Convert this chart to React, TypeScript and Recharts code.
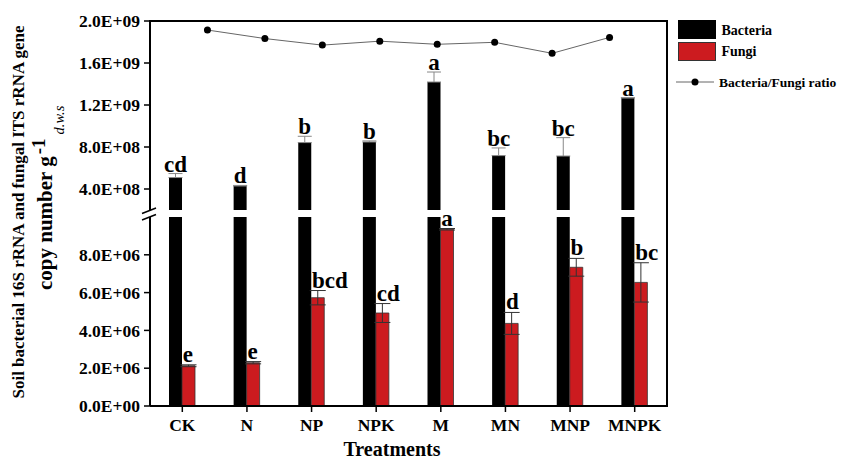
import React from "react";
import { ComposedChart, Bar, Line, XAxis, YAxis, ErrorBar, LabelList } from "recharts";

const FONT = "'Liberation Serif', 'Times New Roman', serif";
const RED = "#cc1b1f";

const treatments = ["CK", "N", "NP", "NPK", "M", "MN", "MNP", "MNPK"];
const bacteria = [5.09e8, 4.29e8, 8.42e8, 8.48e8, 1.419e9, 7.18e8, 7.14e8, 1.267e9];
const bacteriaErr = [3.8e7, 0.5e7, 6.0e7, 1.0e7, 9.5e7, 7.3e7, 1.75e8, 0.3e7];
const fungi = [2.13e6, 2.29e6, 5.73e6, 4.92e6, 9.35e6, 4.37e6, 7.34e6, 6.54e6];
const fungiErr = [0.05e6, 0.06e6, 0.38e6, 0.5e6, 0.04e6, 0.58e6, 0.47e6, 1.04e6];
const ratio = [239, 187, 147, 171, 152, 164, 97, 194];
const bacteriaLetters = ["cd", "d", "b", "b", "a", "bc", "bc", "a"];
const fungiLetters = ["e", "e", "bcd", "cd", "a", "d", "b", "bc"];
const upperTicks = [4e8, 8e8, 1.2e9, 1.6e9, 2e9];
const lowerTicks = [0, 2e6, 4e6, 6e6, 8e6];

const data = treatments.map((name, i) => ({
  name,
  idx: i,
  bacteria: bacteria[i],
  bacteriaErr: [0, bacteriaErr[i]],
  bacteriaTop: bacteria[i] + bacteriaErr[i],
  bacteriaLetter: bacteriaLetters[i],
  fungi: fungi[i],
  fungiErr: fungiErr[i],
  fungiTop: fungi[i] + fungiErr[i],
  fungiLetter: fungiLetters[i],
  ratio: ratio[i],
}));

// 2.0E+09 style
const sci = (v: number) => {
  const [m, e] = v.toExponential(1).split("e");
  return `${m}E${e[0]}${e.slice(1).padStart(2, "0")}`;
};

const tickStyle = { fill: "#000", fontSize: 17.5, fontWeight: "bold", fontFamily: FONT };

const bactLabel = (props: any) => (
  <text x={props.x - 6.8} y={props.y - 2} textAnchor="middle" fontSize={23} fontWeight="bold" fontFamily={FONT} fill="#000">
    {props.value}
  </text>
);

const fungiLabel = (props: any) => (
  <text x={props.x + 0.5} y={props.y - 3} textAnchor="start" fontSize={23} fontWeight="bold" fontFamily={FONT} fill="#000">
    {props.value}
  </text>
);

function Overlay() {
  return (
    <svg width={843} height={462} style={{ position: "absolute", left: 0, top: 0, pointerEvents: "none" }}>
      {/* frame */}
      <line x1={149} y1={21} x2={668} y2={21} stroke="#000" strokeWidth={2} />
      <line x1={667} y1={20} x2={667} y2={407} stroke="#000" strokeWidth={2} />
      {/* axis break */}
      <line x1={142} y1={213.5} x2={156} y2={208} stroke="#000" strokeWidth={1.5} />
      <line x1={142} y1={220} x2={156} y2={214.5} stroke="#000" strokeWidth={1.5} />
      {/* y label */}
      <text transform="rotate(-90, 24, 212)" x={24} y={212} textAnchor="middle" fontSize={17} fontWeight="bold" fontFamily={FONT}>
        Soil bacterial 16S rRNA and fungal ITS rRNA gene
      </text>
      <text transform="rotate(-90, 52, 290)" x={52} y={290} textAnchor="start" fontSize={21} fontWeight="bold" fontFamily={FONT}>
        copy number g
        <tspan dy={-7} dx={2} fontSize={19}>-1</tspan>
        <tspan dy={19} dx={4} fontSize={14.5} fontWeight="normal" fontStyle="italic">d.w.s</tspan>
      </text>
      <text x={392} y={456} textAnchor="middle" fontSize={20} fontWeight="bold" fontFamily={FONT}>
        Treatments
      </text>
      {/* legend */}
      <rect x={678} y={20} width={38} height={19} fill="#000" />
      <rect x={678.5} y={42.5} width={37} height={18} fill={RED} stroke="#333" />
      <text x={721.5} y={35} fontSize={14} fontWeight="bold" fontFamily={FONT}>Bacteria</text>
      <text x={721.5} y={56} fontSize={14} fontWeight="bold" fontFamily={FONT}>Fungi</text>
      <line x1={676} y1={82} x2={714} y2={82} stroke="#666" strokeWidth={1} />
      <circle cx={695} cy={82} r={3.5} fill="#000" />
      <text x={719} y={86.5} fontSize={13.5} fontWeight="bold" fontFamily={FONT}>Bacteria/Fungi ratio</text>
    </svg>
  );
}

export default function App() {
  return (
    <div style={{ position: "absolute", left: 0, top: 0, width: 843, height: 462, background: "#fff", overflow: "hidden" }}>
      {/* lower segment: 0 - 1E+07 */}
      <div style={{ position: "absolute", left: 0, top: 0 }}>
        <ComposedChart width={843} height={462} data={data} barSize={13} barGap={0} margin={{ top: 217, right: 176, bottom: 0, left: 0 }}>
          <XAxis
            dataKey="name"
            height={56}
            tickSize={6}
            tickMargin={7}
            tick={tickStyle}
            axisLine={{ stroke: "#000", strokeWidth: 2 }}
            tickLine={{ stroke: "#000", strokeWidth: 1.5 }}
          />
          <YAxis
            width={150}
            domain={[0, 1e7]}
            allowDataOverflow
            ticks={lowerTicks}
            tickFormatter={sci}
            tickSize={6}
            tickMargin={4}
            tick={tickStyle}
            axisLine={{ stroke: "#000", strokeWidth: 2 }}
            tickLine={{ stroke: "#000", strokeWidth: 1.5 }}
          />
          <YAxis yAxisId="lab" hide domain={[0, 1e7]} />
          <Bar dataKey="bacteria" fill="#000" isAnimationActive={false} />
          <Bar dataKey="fungi" fill={RED} stroke="#333" strokeWidth={0.8} isAnimationActive={false}>
            <ErrorBar dataKey="fungiErr" width={8} stroke="#333" strokeWidth={1} />
          </Bar>
          <Line yAxisId="lab" dataKey="fungiTop" stroke="none" dot={false} activeDot={false} isAnimationActive={false}>
            <LabelList dataKey="fungiLetter" content={fungiLabel} />
          </Line>
        </ComposedChart>
      </div>
      {/* upper segment: 2E+08 - 2E+09 */}
      <div style={{ position: "absolute", left: 0, top: 0 }}>
        <ComposedChart width={843} height={215} data={data} barSize={13} barGap={0} margin={{ top: 21, right: 176, bottom: 5, left: 0 }}>
          <XAxis dataKey="name" hide />
          <XAxis xAxisId="r" type="number" dataKey="idx" domain={[-1, 8]} hide />
          <YAxis
            width={150}
            domain={[2e8, 2e9]}
            allowDataOverflow
            ticks={upperTicks}
            tickFormatter={sci}
            tickSize={6}
            tickMargin={4}
            tick={tickStyle}
            axisLine={{ stroke: "#000", strokeWidth: 2 }}
            tickLine={{ stroke: "#000", strokeWidth: 1.5 }}
          />
          <YAxis yAxisId="lab" hide domain={[2e8, 2e9]} />
          <YAxis yAxisId="r" hide domain={[-858, 294]} allowDataOverflow />
          <Bar dataKey="bacteria" fill="#000" isAnimationActive={false}>
            <ErrorBar dataKey="bacteriaErr" width={7} stroke="#888" strokeWidth={1} />
          </Bar>
          <Bar dataKey="fungi" fill={RED} fillOpacity={0} isAnimationActive={false} />
          <Line yAxisId="lab" dataKey="bacteriaTop" stroke="none" dot={false} activeDot={false} isAnimationActive={false}>
            <LabelList dataKey="bacteriaLetter" content={bactLabel} />
          </Line>
          <Line
            xAxisId="r"
            yAxisId="r"
            dataKey="ratio"
            stroke="#666"
            strokeWidth={1}
            dot={{ r: 3.5, fill: "#000", stroke: "#000", strokeWidth: 0 }}
            activeDot={false}
            isAnimationActive={false}
          />
        </ComposedChart>
      </div>
      <Overlay />
    </div>
  );
}
